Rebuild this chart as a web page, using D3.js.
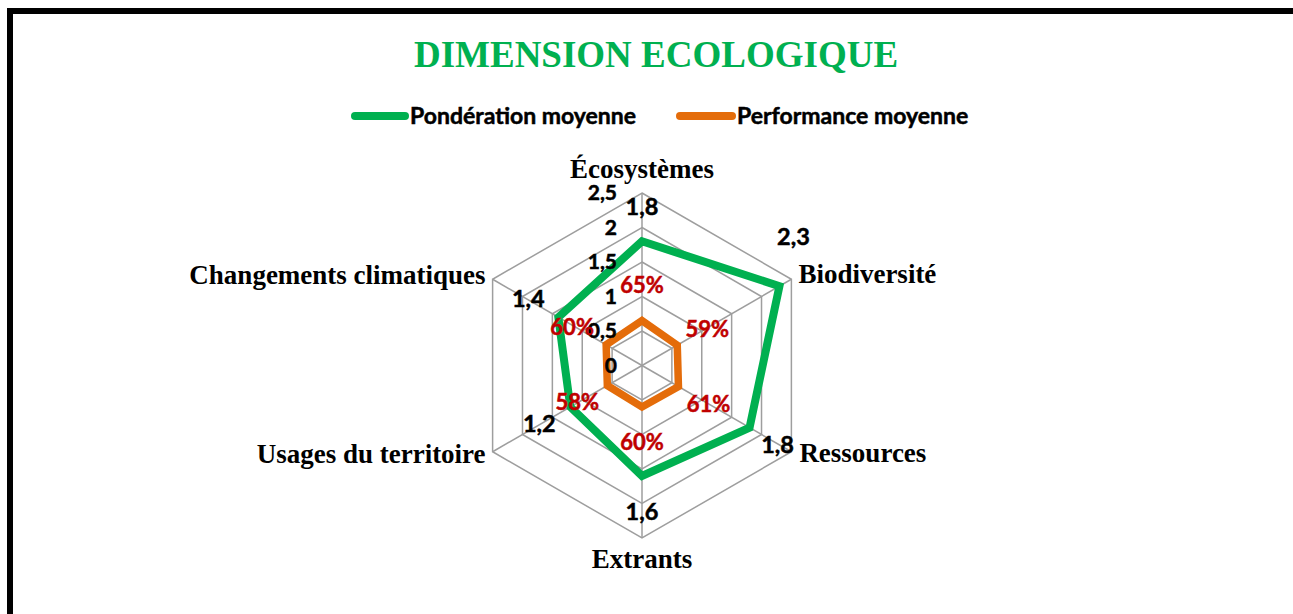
<!DOCTYPE html>
<html><head><meta charset="utf-8">
<script src="https://cdn.jsdelivr.net/npm/d3@7"></script>
<style>
html,body{margin:0;padding:0;background:#fff;overflow:hidden;}
</style></head>
<body>
<svg id="chart" width="1293" height="614"></svg>
<script>
// ---- data ----
const categories = ["Écosystèmes", "Biodiversité", "Ressources", "Extrants", "Usages du territoire", "Changements climatiques"];
const ponderation = [1.8, 2.3, 1.8, 1.6, 1.2, 1.4];
const performance = [0.65, 0.59, 0.61, 0.60, 0.58, 0.60];
const ponderationLabels = ["1,8", "2,3", "1,8", "1,6", "1,2", "1,4"];
const performanceLabels = ["65%", "59%", "61%", "60%", "58%", "60%"];
const tickValues = [0, 0.5, 1, 1.5, 2, 2.5];
const tickLabels = ["0", "0,5", "1", "1,5", "2", "2,5"];
const seriesNames = ["Pondération moyenne", "Performance moyenne"];
const title = "DIMENSION ECOLOGIQUE";

// ---- layout / style ----
const cx = 642, cy = 365.5, R = 172.5;
const green = "#00B050", orange = "#E46C0A", red = "#C00000", grid = "#9E9E9E";
const numFont = "Lato, 'Open Sans', sans-serif";
const catFont = "'Liberation Serif', 'Times New Roman', serif";
const greenLabelOffsets = [[0,-26],[14,-41],[28,25],[0,44],[-31,25],[-30,-10]];
const redLabelOffsets = [[0,-28],[30,-8],[30,25],[0,43],[-30,24],[-34,-10]];
const catLabelOffsets = [[0,-15,"middle"],[7,4,"start"],[8,10,"start"],[0,30,"middle"],[-7,11,"end"],[-7,5,"end"]];

const svg = d3.select("#chart");
svg.append("rect").attr("x",10).attr("y",11).attr("width",1400).attr("height",700)
  .attr("fill","#fff").attr("stroke","#000").attr("stroke-width",6);

const r = d3.scaleLinear().domain([0, 2.5]).range([0, R]);
const angle = d3.scalePoint().domain(d3.range(categories.length)).range([0, 2*Math.PI*(categories.length-1)/categories.length]);
const px = (i, v) => cx + r(v) * Math.sin(angle(i));
const py = (i, v) => cy - r(v) * Math.cos(angle(i));

const g = svg.append("g");
const hexLine = d3.line();
tickValues.filter(t => t > 0).forEach(t => {
  const pts = categories.map((c, i) => [px(i, t), py(i, t)]);
  g.append("path").attr("d", hexLine(pts) + "Z").attr("fill","none").attr("stroke",grid).attr("stroke-width",1.5);
});
categories.forEach((c, i) => {
  g.append("line").attr("x1", cx).attr("y1", cy).attr("x2", px(i, 2.5)).attr("y2", py(i, 2.5))
    .attr("stroke", grid).attr("stroke-width", 1.5);
});

function drawSeries(vals, color, w) {
  const pts = vals.map((v, i) => [px(i, v), py(i, v)]);
  g.append("path").attr("d", hexLine(pts) + "Z").attr("fill","none")
    .attr("stroke", color).attr("stroke-width", w).attr("stroke-linejoin","miter");
}
drawSeries(performance, orange, 7.5);
drawSeries(ponderation, green, 8);

function boldText(sel, color) {
  return sel.attr("font-family", numFont).attr("font-weight","bold")
    .attr("fill", color).attr("stroke", color).attr("stroke-width", 0.5);
}

// tick labels
boldText(g.selectAll(".tick").data(tickValues).enter().append("text")
  .attr("x", cx - 25).attr("y", d => py(0, d)).attr("dy", "0.35em")
  .attr("text-anchor","end").attr("font-size", 21), "#000")
  .text((d, i) => tickLabels[i]);

// category labels
categories.forEach((c, i) => {
  const o = catLabelOffsets[i];
  g.append("text").attr("x", px(i, 2.5) + o[0]).attr("y", py(i, 2.5) + o[1])
    .attr("text-anchor", o[2]).attr("font-family", catFont).attr("font-weight","bold")
    .attr("font-size", 27).attr("fill","#000").text(c);
});

// data labels
ponderation.forEach((v, i) => {
  const o = greenLabelOffsets[i];
  boldText(g.append("text").attr("x", px(i, v) + o[0]).attr("y", py(i, v) + o[1])
    .attr("text-anchor","middle").attr("font-size", 23.5), "#000").text(ponderationLabels[i]);
});
performance.forEach((v, i) => {
  const o = redLabelOffsets[i];
  boldText(g.append("text").attr("x", px(i, v) + o[0]).attr("y", py(i, v) + o[1])
    .attr("text-anchor","middle").attr("font-size", 22), red).text(performanceLabels[i]);
});

// title
svg.append("text").attr("x", 656).attr("y", 67).attr("text-anchor","middle")
  .attr("font-family", catFont).attr("font-weight","bold").attr("font-size", 37)
  .attr("fill", green).text(title);

// legend
const legend = [{x1:355, x2:405, tx:410, color:green, name:seriesNames[0]},
                {x1:680, x2:732, tx:737, color:orange, name:seriesNames[1]}];
legend.forEach(l => {
  svg.append("line").attr("x1", l.x1).attr("x2", l.x2).attr("y1", 116).attr("y2", 116)
    .attr("stroke", l.color).attr("stroke-width", 8).attr("stroke-linecap","round");
  boldText(svg.append("text").attr("x", l.tx).attr("y", 116).attr("dy","0.35em")
    .attr("font-size", 23), "#000").text(l.name);
});
</script>
</body></html>
